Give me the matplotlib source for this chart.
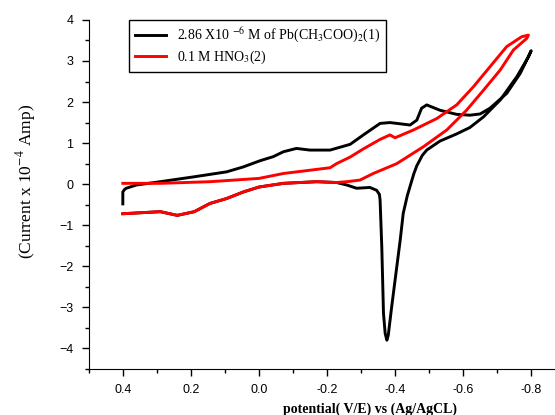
import matplotlib
matplotlib.use("Agg")
import matplotlib.pyplot as plt

plt.rcParams["mathtext.fontset"] = "stix"

# Cyclic voltammogram of Pb(CH3COO)2 in HNO3 (1) and blank 0.1 M HNO3 (2).
# Potential in V, current in units of 1e-4 A.
pb_potential = [
    0.40, 0.40, 0.395, 0.39, 0.36, 0.29, 0.19, 0.095, 0.046, -0.003,
    -0.042, -0.072, -0.11, -0.15, -0.209, -0.268, -0.307, -0.356, -0.385,
    -0.415, -0.444, -0.464, -0.478, -0.493, -0.532, -0.581, -0.62, -0.65,
    -0.679, -0.728, -0.768, -0.80,
    -0.792, -0.758, -0.709, -0.66, -0.62, -0.58, -0.532, -0.493, -0.48,
    -0.464, -0.455, -0.446, -0.436, -0.424, -0.415, -0.40, -0.39, -0.380,
    -0.376, -0.371, -0.366, -0.361, -0.356, -0.354, -0.346, -0.326,
    -0.287, -0.258, -0.228, -0.17, -0.072, 0.0, 0.046, 0.095, 0.144,
    0.19, 0.24, 0.29, 0.40,
]
pb_current = [
    -0.48, -0.19, -0.13, -0.10, -0.02, 0.06, 0.18, 0.30, 0.42, 0.57,
    0.67, 0.79, 0.87, 0.83, 0.83, 0.97, 1.20, 1.48, 1.50,
    1.47, 1.44, 1.56, 1.85, 1.93, 1.80, 1.70, 1.68, 1.71,
    1.85, 2.21, 2.70, 3.25,
    3.10, 2.62, 2.05, 1.64, 1.38, 1.22, 1.05, 0.83, 0.70,
    0.45, 0.25, 0.0, -0.28, -0.71, -1.37, -2.34, -2.99, -3.68,
    -3.80, -3.64, -3.15, -1.53, -0.39, -0.25, -0.15, -0.08,
    -0.10, -0.02, 0.04, 0.06, 0.02, -0.07, -0.19, -0.35, -0.47,
    -0.67, -0.76, -0.67, -0.72,
]

blank_potential = [
    0.40, 0.29, 0.144, 0.0, -0.072, -0.17, -0.209, -0.228, -0.268, -0.307,
    -0.356, -0.385, -0.40, -0.454, -0.523, -0.581, -0.63, -0.679, -0.728,
    -0.772, -0.792,
    -0.787, -0.748, -0.709, -0.66, -0.61, -0.552, -0.483, -0.405, -0.336,
    -0.297, -0.258, -0.228, -0.17, -0.072, 0.0, 0.046, 0.095, 0.144,
    0.19, 0.24, 0.29, 0.40,
]
blank_current = [
    0.02, 0.02, 0.06, 0.14, 0.26, 0.36, 0.40, 0.50, 0.66, 0.86,
    1.09, 1.20, 1.13, 1.32, 1.60, 1.93, 2.37, 2.86, 3.35,
    3.59, 3.63,
    3.55, 3.27, 2.78, 2.29, 1.80, 1.32, 0.91, 0.50, 0.26,
    0.10, 0.06, 0.04, 0.06, 0.02, -0.07, -0.19, -0.35, -0.47,
    -0.67, -0.76, -0.67, -0.72,
]

fig = plt.figure(figsize=(5.55, 4.15), dpi=100)
ax = fig.add_axes([0.160, 0.111, 0.840, 0.841])

ax.plot(pb_potential, pb_current, color="black", linewidth=2.1,
        label=r"2.86 X10 $^{-6}$ M of Pb(CH$_3$COO)$_2$(1)")
ax.plot(blank_potential, blank_current, color="red", linewidth=2.1,
        label=r"0.1 M HNO$_3$(2)")

ax.set_xlim(0.5, -0.87)
ax.set_ylim(-4.5, 4)
ax.set_xticks([0.4, 0.2, 0.0, -0.2, -0.4, -0.6, -0.8])
ax.set_xticklabels(["0.4", "0.2", "0.0", "-0.2", "-0.4", "-0.6", "-0.8"])
ax.set_xticks([0.5, 0.3, 0.1, -0.1, -0.3, -0.5, -0.7], minor=True)
ax.set_yticks(range(-4, 5))
ax.set_yticks([-4.5, -3.5, -2.5, -1.5, -0.5, 0.5, 1.5, 2.5, 3.5], minor=True)

for side in ("top", "right"):
    ax.spines[side].set_visible(False)
ax.tick_params(which="major", direction="out", length=5, width=1,
               labelsize=9, pad=6)
ax.tick_params(which="minor", direction="out", length=3, width=1)
for lbl in ax.get_xticklabels() + ax.get_yticklabels():
    lbl.set_family("Liberation Sans")

ax.set_xlabel("potential( V/E) vs (Ag/AgCL)", family="Liberation Serif",
              fontweight="bold", fontsize=10)
ax.xaxis.set_label_coords(0.603, -0.095)
ax.set_ylabel(r"(Current x 10$^{-4}$ Amp)", family="Liberation Serif",
              fontsize=12.5)
ax.yaxis.set_label_coords(-0.109, 0.536)

leg = ax.legend(loc="upper left", bbox_to_anchor=(0.086, 1.0),
                borderaxespad=0,
                prop={"family": "Liberation Serif", "size": 10},
                fancybox=False, framealpha=1, edgecolor="black",
                handlelength=2.2, borderpad=0.45, labelspacing=0.25)
leg.get_frame().set_linewidth(1.0)

fig.savefig("out.png", dpi=100)
